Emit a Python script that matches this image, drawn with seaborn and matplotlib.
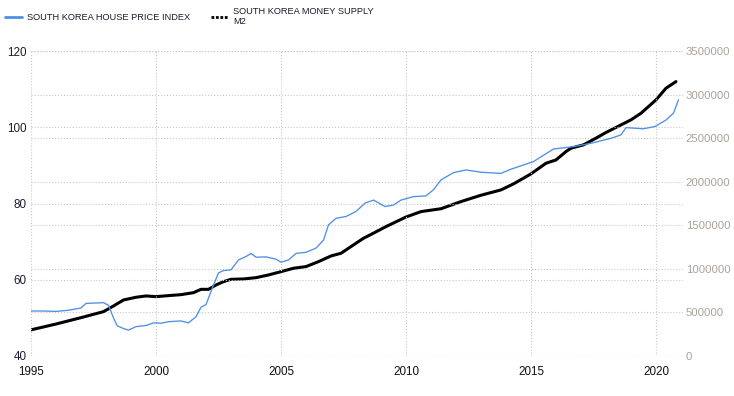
import matplotlib
matplotlib.use("Agg")
import matplotlib.pyplot as plt
import matplotlib.ticker as tick
from matplotlib.lines import Line2D
import pandas as pd
import seaborn as sns

# house price index (left axis)
house_x = [1995.0, 1995.5, 1996.0, 1996.5, 1997.0, 1997.2, 1997.6, 1997.9, 1998.1, 1998.3,
           1998.45, 1998.7, 1998.9, 1999.2, 1999.6, 1999.9, 2000.2, 2000.5, 2001.0, 2001.3,
           2001.6, 2001.8, 2002.0, 2002.3, 2002.5, 2002.7, 2003.0, 2003.3, 2003.6, 2003.8,
           2004.0, 2004.4, 2004.8, 2005.0, 2005.3, 2005.6, 2006.0, 2006.4, 2006.7, 2006.9,
           2007.2, 2007.6, 2008.0, 2008.36, 2008.7, 2009.16, 2009.5, 2009.8, 2010.3, 2010.8,
           2011.1, 2011.4, 2011.9, 2012.4, 2013.0, 2013.8, 2014.2, 2015.1, 2015.9, 2016.7,
           2017.4, 2018.2, 2018.6, 2018.8, 2019.5, 2019.96, 2020.4, 2020.7, 2020.9]
house_y = [51.8, 51.8, 51.7, 52.0, 52.6, 53.8, 53.9, 54.0, 53.3, 50.0,
           47.9, 47.2, 46.8, 47.7, 48.0, 48.7, 48.6, 49.0, 49.2, 48.7,
           50.3, 52.8, 53.5, 58.6, 61.8, 62.4, 62.6, 65.2, 66.1, 66.9,
           65.9, 66.0, 65.4, 64.6, 65.2, 66.9, 67.2, 68.3, 70.4, 74.4,
           76.1, 76.6, 77.9, 80.1, 80.9, 79.2, 79.6, 80.9, 81.8, 82.0,
           83.6, 86.2, 88.1, 88.8, 88.2, 87.9, 89.0, 91.0, 94.3, 94.9,
           95.8, 97.1, 98.0, 99.9, 99.6, 100.2, 101.9, 103.7, 107.2]

# money supply M2 (right axis)
money_x = [1995.0, 1996.0, 1997.0, 1997.9, 1998.3, 1998.7, 1999.2, 1999.6, 2000.0, 2000.5,
           2001.0, 2001.5, 2001.8, 2002.1, 2002.4, 2002.7, 2003.0, 2003.5, 2004.0, 2004.5,
           2005.0, 2005.5, 2006.0, 2006.5, 2007.0, 2007.4, 2008.0, 2008.3, 2008.5, 2009.2,
           2010.0, 2010.6, 2011.4, 2012.2, 2013.0, 2013.8, 2014.3, 2015.0, 2015.6, 2016.0,
           2016.4, 2016.6, 2017.1, 2017.6, 2018.0, 2018.6, 2019.0, 2019.4, 2020.0, 2020.4,
           2020.8]
money_y = [300000, 367000, 440000, 509000, 574000, 643000, 674000, 689000, 681000, 693000,
           704000, 727000, 765000, 765000, 815000, 853000, 880000, 884000, 899000, 930000,
           968000, 1007000, 1026000, 1083000, 1148000, 1179000, 1294000, 1351000, 1380000, 1485000,
           1595000, 1657000, 1690000, 1772000, 1845000, 1906000, 1975000, 2090000, 2212000, 2250000,
           2346000, 2385000, 2423000, 2500000, 2565000, 2652000, 2710000, 2786000, 2939000, 3073000,
           3149000]

house_label = "SOUTH KOREA HOUSE PRICE INDEX"
money_label = "SOUTH KOREA MONEY SUPPLY\nM2"

sns.set_style("white")
plt.rcParams['font.family'] = ['Liberation Sans', 'DejaVu Sans']

house = pd.DataFrame({"Year": house_x, "Index": house_y})
money = pd.DataFrame({"Year": money_x, "M2": money_y})

fig = plt.figure(figsize=(7.34, 3.96), dpi=100)
# axes box in pixels: left 31, right 683, top 51, bottom 356
ax = fig.add_axes([31/734, 1-356/396, 652/734, 305/396])
ax2 = ax.twinx()

blue = '#4f8fe6'
sns.lineplot(data=house, x="Year", y="Index", ax=ax, color=blue, linewidth=0.95)
sns.lineplot(data=money, x="Year", y="M2", ax=ax2, color='black', linewidth=2.2)

ax.set_xlim(1995, 1995 + 652/25)
ax.set_ylim(40, 120)
ax.set_yticks([40, 60, 80, 100, 120])
ax.set_xticks([1995, 2000, 2005, 2010, 2015, 2020])
ax2.set_ylim(0, 3500000)
ax2.set_yticks(range(0, 3500001, 500000))
ax2.yaxis.set_major_formatter(tick.StrMethodFormatter('{x:.0f}'))

for a in (ax, ax2):
    a.set_xlabel("")
    a.set_ylabel("")
    for s in a.spines.values():
        s.set_visible(False)

ax.grid(True, linestyle=':', color='#c8c8c8', linewidth=0.8)
ax2.grid(True, axis='y', linestyle=':', color='#c8c8c8', linewidth=0.8)
ax.set_zorder(ax2.get_zorder() + 1)
ax.patch.set_visible(False)

ax.tick_params(axis='y', length=0, pad=3, labelsize=8.4, labelcolor='#1c1c2e')
ax.tick_params(axis='x', length=0, pad=7, labelsize=8.4, labelcolor='#111111')
ax2.tick_params(axis='y', length=0, pad=2, labelsize=8.2, labelcolor='#aba39a')

handles = [Line2D([], [], color=blue, linewidth=2),
           Line2D([], [], color='black', linewidth=2.0, linestyle=(0, (1, 0.6)))]
fig.legend(handles, [house_label, money_label], loc='upper left',
           bbox_to_anchor=(5/734, 1 - 7/396), borderaxespad=0, borderpad=0,
           ncol=2, frameon=False, fontsize=6.7,
           handlelength=1.8, handletextpad=0.55, columnspacing=2.3,
           labelspacing=0.2, labelcolor='#1c1c2e')

fig.savefig("out.png", dpi=100)
